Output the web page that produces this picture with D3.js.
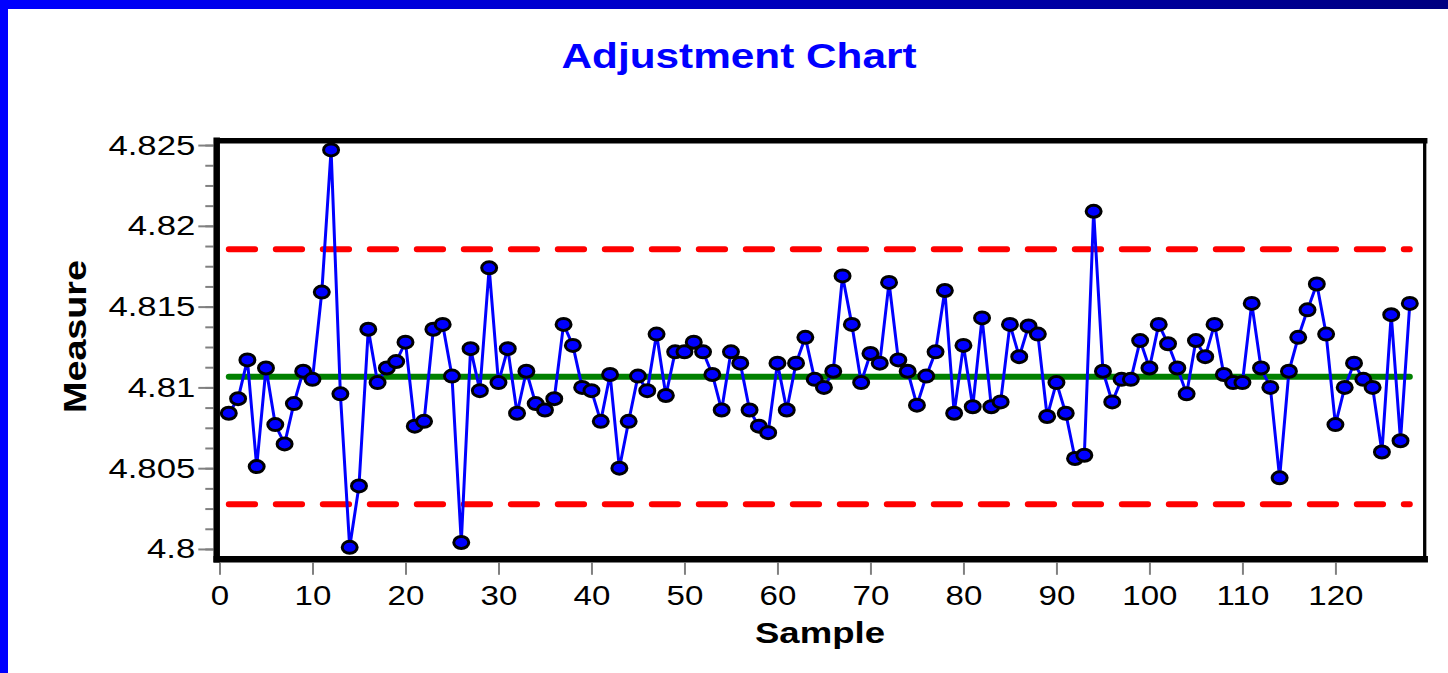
<!DOCTYPE html>
<html>
<head>
<meta charset="utf-8">
<script src="https://cdn.jsdelivr.net/npm/d3@7"></script>
<style>
    html, body { margin: 0; padding: 0; background: #fff; }
    svg { display: block; }
    text { font-family: "Liberation Sans", Arial, sans-serif; }
</style>
</head>
<body>
<svg id="chart"></svg>
<script>
// measured value for samples 1..128
var measures = [
    4.8084, 4.8093, 4.8117, 4.8051, 4.8112, 4.8077, 4.8065, 4.8090, 4.8110, 4.8105,
    4.8159, 4.8247, 4.8096, 4.8001, 4.8039, 4.8136, 4.8103, 4.8112, 4.8116, 4.8128,
    4.8076, 4.8079, 4.8136, 4.8139, 4.8107, 4.8004, 4.8124, 4.8098, 4.8174, 4.8103,
    4.8124, 4.8084, 4.8110, 4.8090, 4.8086, 4.8093, 4.8139, 4.8126, 4.8100, 4.8098,
    4.8079, 4.8108, 4.8050, 4.8079, 4.8107, 4.8098, 4.8133, 4.8095, 4.8122, 4.8122,
    4.8128, 4.8122, 4.8108, 4.8086, 4.8122, 4.8115, 4.8086, 4.8076, 4.8072, 4.8115,
    4.8086, 4.8115, 4.8131, 4.8105, 4.8100, 4.8110, 4.8169, 4.8139, 4.8103, 4.8121,
    4.8115, 4.8165, 4.8117, 4.8110, 4.8089, 4.8107, 4.8122, 4.8160, 4.8084, 4.8126,
    4.8088, 4.8143, 4.8088, 4.8091, 4.8139, 4.8119, 4.8138, 4.8133, 4.8082, 4.8103,
    4.8084, 4.8056, 4.8058, 4.8209, 4.8110, 4.8091, 4.8105, 4.8105, 4.8129, 4.8112,
    4.8139, 4.8127, 4.8112, 4.8096, 4.8129, 4.8119, 4.8139, 4.8108, 4.8103, 4.8103,
    4.8152, 4.8112, 4.8100, 4.8044, 4.8110, 4.8131, 4.8148, 4.8164, 4.8133, 4.8077,
    4.8100, 4.8115, 4.8105, 4.8100, 4.8060, 4.8145, 4.8067, 4.8152
];

// control limits
var centerLine = 4.81066;
var upperLimit = 4.81855;
var lowerLimit = 4.80277;

var xTickValues = [0, 10, 20, 30, 40, 50, 60, 70, 80, 90, 100, 110, 120];
var yTickValues = [4.8, 4.805, 4.81, 4.815, 4.82, 4.825];
var yTickLabels = ['4.8', '4.805', '4.81', '4.815', '4.82', '4.825'];

var width = 1448;
var height = 673;

var svg = d3.select('#chart')
    .attr('width', width)
    .attr('height', height);

// frame of the plot area (note: "top" is taken by window.top)
var plotLeft = 216.7, plotRight = 1424.7, plotTop = 140.7, plotBottom = 559.3;

var x = d3.scaleLinear()
    .domain([-0.3, 129.6])
    .range([plotLeft, plotRight]);

var y = d3.scaleLinear()
    .domain([4.79936, 4.82527])
    .range([plotBottom, plotTop]);

// stretch text sideways like the original
function stretch(sel, k) {
    sel.each(function() {
        var w = this.getComputedTextLength();
        d3.select(this)
            .attr('textLength', w * k)
            .attr('lengthAdjust', 'spacingAndGlyphs');
    });
}

// page border: gradient band on top, blue band on the left
var defs = svg.append('defs');
var grad = defs.append('linearGradient')
    .attr('id', 'topband')
    .attr('x1', 0).attr('x2', 1).attr('y1', 0).attr('y2', 0);
grad.append('stop').attr('offset', 0).attr('stop-color', '#0000ff');
grad.append('stop').attr('offset', 1).attr('stop-color', '#000080');

svg.append('rect')
    .attr('width', width).attr('height', height)
    .attr('fill', '#fff');
svg.append('rect')
    .attr('x', 0).attr('y', 0)
    .attr('width', width).attr('height', 9)
    .attr('fill', 'url(#topband)');
svg.append('rect')
    .attr('x', 0).attr('y', 0)
    .attr('width', 8).attr('height', height)
    .attr('fill', '#0000ff');

// title
svg.append('text')
    .attr('x', 739).attr('y', 68)
    .attr('text-anchor', 'middle')
    .attr('font-size', 35)
    .attr('font-weight', 'bold')
    .attr('fill', '#0000ff')
    .attr('textLength', 355)
    .attr('lengthAdjust', 'spacingAndGlyphs')
    .text('Adjustment Chart');

// y axis: minor ticks then major ticks with labels
var yMinor = svg.append('g')
    .attr('transform', 'translate(213.3,0)')
    .call(d3.axisLeft(y)
        .tickValues(d3.range(4.8, 4.8251, 0.00125))
        .tickSize(8)
        .tickFormat(''));
yMinor.select('.domain').remove();

var yAxis = svg.append('g')
    .attr('transform', 'translate(213.3,0)')
    .call(d3.axisLeft(y)
        .tickValues(yTickValues)
        .tickSize(15)
        .tickPadding(3)
        .tickFormat(function(d, i) { return yTickLabels[i]; }));
yAxis.select('.domain').remove();

svg.selectAll('.tick line')
    .attr('stroke', '#808080')
    .attr('stroke-width', 2);

yAxis.selectAll('text')
    .attr('font-size', 28)
    .attr('font-family', '"Liberation Sans", Arial, sans-serif')
    .attr('fill', '#000')
    .call(stretch, 1.24);

// x axis
var xAxis = svg.append('g')
    .attr('transform', 'translate(0,' + (plotBottom + 3.5) + ')')
    .call(d3.axisBottom(x)
        .tickValues(xTickValues)
        .tickSize(12)
        .tickPadding(10));
xAxis.select('.domain').remove();
xAxis.selectAll('.tick line')
    .attr('stroke', '#808080')
    .attr('stroke-width', 2);
xAxis.selectAll('text')
    .attr('font-size', 28)
    .attr('font-family', '"Liberation Sans", Arial, sans-serif')
    .attr('fill', '#000')
    .call(stretch, 1.18);

// axis titles
svg.append('text')
    .attr('transform', 'translate(86,336.5) rotate(-90)')
    .attr('text-anchor', 'middle')
    .attr('font-size', 31)
    .attr('font-weight', 'bold')
    .attr('textLength', 153)
    .attr('lengthAdjust', 'spacingAndGlyphs')
    .text('Measure');

svg.append('text')
    .attr('x', 820).attr('y', 643)
    .attr('text-anchor', 'middle')
    .attr('font-size', 29)
    .attr('font-weight', 'bold')
    .attr('textLength', 130)
    .attr('lengthAdjust', 'spacingAndGlyphs')
    .text('Sample');

// frame
var frame = svg.append('g').attr('stroke', '#000').attr('stroke-linecap', 'square');
frame.append('line')
    .attr('x1', plotLeft).attr('x2', plotRight).attr('y1', plotTop).attr('y2', plotTop)
    .attr('stroke-width', 5.5);
frame.append('line')
    .attr('x1', plotLeft).attr('x2', plotRight).attr('y1', plotBottom).attr('y2', plotBottom)
    .attr('stroke-width', 6.5);
frame.append('line')
    .attr('x1', plotLeft).attr('x2', plotLeft).attr('y1', plotTop).attr('y2', plotBottom)
    .attr('stroke-width', 6.5);
frame.append('line')
    .attr('x1', plotRight).attr('x2', plotRight).attr('y1', plotTop).attr('y2', plotBottom)
    .attr('stroke-width', 3.3);

// center line and control limits run from first to last sample
var n = measures.length;

svg.append('line')
    .attr('x1', x(1)).attr('x2', x(n))
    .attr('y1', y(centerLine)).attr('y2', y(centerLine))
    .attr('stroke', '#008000')
    .attr('stroke-width', 6)
    .attr('stroke-linecap', 'round');

[upperLimit, lowerLimit].forEach(function(v) {
    svg.append('line')
        .attr('x1', x(1)).attr('x2', x(n))
        .attr('y1', y(v)).attr('y2', y(v))
        .attr('stroke', '#ff0000')
        .attr('stroke-width', 6)
        .attr('stroke-linecap', 'round')
        .attr('stroke-dasharray', '26.3 20.7');
});

// data line and markers
var line = d3.line()
    .x(function(d, i) { return x(i + 1); })
    .y(function(d) { return y(d); });

svg.append('path')
    .datum(measures)
    .attr('d', line)
    .attr('fill', 'none')
    .attr('stroke', '#0000ff')
    .attr('stroke-width', 3)
    .attr('stroke-linejoin', 'round');

svg.append('g')
    .selectAll('ellipse')
    .data(measures)
    .enter().append('ellipse')
    .attr('cx', function(d, i) { return x(i + 1); })
    .attr('cy', function(d) { return y(d); })
    .attr('rx', 7.5)
    .attr('ry', 6)
    .attr('fill', '#0000ff')
    .attr('stroke', '#000')
    .attr('stroke-width', 3);
</script>
</body>
</html>
